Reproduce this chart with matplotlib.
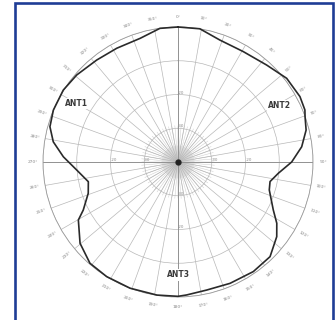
import matplotlib.pyplot as plt
import numpy as np
from matplotlib.patches import Rectangle

# antenna pattern (deg clockwise from top, relative radius)
angle_deg = [0, 9.3, 19, 30.6, 42.4, 52.4, 61.8, 67.7, 70.4, 76, 83, 90, 96.4,
             102, 107, 116.7, 121.8, 127.1, 135.8, 145.5, 156.8, 167.4, 176.3,
             180, 189, 200.8, 211.9, 221, 230.3, 239.8, 243.1, 250.8, 257.6,
             265.5, 272.6, 279.2, 285.4, 292.6, 302.1, 310.7, 321.4, 331.7,
             343, 352.3, 360]
radius = [1.0, 1.0, 0.955, 0.95, 0.973, 1.016, 1.025, 1.016, 0.999, 0.978,
          0.923, 0.842, 0.748, 0.697, 0.707, 0.79, 0.861, 0.917, 0.978, 0.985,
          0.978, 0.972, 0.987, 0.995, 0.998, 1.0, 1.0, 0.994, 0.943, 0.854,
          0.787, 0.704, 0.68, 0.753, 0.85, 0.936, 0.984, 1.0, 1.003, 0.989,
          0.966, 0.957, 0.958, 0.999, 1.0]

ring_values = [0.25, 0.5, 0.75, 1.0]
ring_labels = ['-30', '-20', '-10', '0']
spoke_deg = np.arange(0, 360, 10)
tick_labels = [f'{a}°' for a in spoke_deg]
antennas = ['ANT1', 'ANT2', 'ANT3']
antenna_pos = [(300, 0.867), (61, 0.863), (180, 0.837)]

fig = plt.figure(figsize=(3.36, 3.2), dpi=100)
fig.patches.append(Rectangle((15 / 336, -0.05), 318 / 336, 1 - 3 / 320 + 0.05,
                             transform=fig.transFigure, fill=False,
                             edgecolor='#1f3d96', linewidth=1.9))

ax = fig.add_axes([43 / 336, 23 / 320, 270 / 336, 270 / 320], projection='polar')
ax.set_theta_zero_location('N')
ax.set_theta_direction(-1)
ax.set_ylim(0, 1)
ax.set_rgrids(ring_values, labels=[''] * 4)
ax.set_thetagrids(spoke_deg, labels=[''] * len(spoke_deg))
ax.grid(True, color='#b8b8b8', linewidth=0.5)
ax.spines['polar'].set_color('#9a9a9a')
ax.spines['polar'].set_linewidth(0.6)
ax.tick_params(length=0)

# denser spokes near the centre
for a in np.arange(0, 360, 5):
    ax.plot([np.radians(a)] * 2, [0, 0.27], color='#cccccc', lw=0.35, zorder=1)
for a in np.arange(2.5, 360, 5):
    ax.plot([np.radians(a)] * 2, [0, 0.12], color='#cccccc', lw=0.35, zorder=1)
# main axes
for a in [0, 90, 180, 270]:
    ax.plot([np.radians(a)] * 2, [0, 1], color='#8a8a8a', lw=0.6, zorder=2)
ax.plot([0], [0], 'o', color='#222222', ms=3.5, zorder=3)

ax.plot(np.radians(angle_deg), radius, color='#2a2a2a', lw=1.2,
        clip_on=False, zorder=5)

for a, lab in zip(spoke_deg, tick_labels):
    rot = ((-a + 45) % 90) - 45
    ax.text(np.radians(a), 1.075, lab, fontsize=3.2, color='#8a8a8a',
            ha='center', va='center', rotation=rot, rotation_mode='anchor')

for a in [0, 90, 180, 270]:
    for rv, rl in zip(ring_values[:2], ring_labels[:2]):
        ax.text(np.radians(a), rv, rl, fontsize=2.8, color='#8a8a8a',
                ha='left', va='bottom')

for name, (a, rv) in zip(antennas, antenna_pos):
    ax.text(np.radians(a), rv, name, fontsize=5.5, fontweight='bold',
            color='#3a3a3a', ha='center', va='center', zorder=6,
            bbox=dict(facecolor='white', edgecolor='none', pad=0.8))

fig.savefig('out.png', dpi=100, facecolor='white')
